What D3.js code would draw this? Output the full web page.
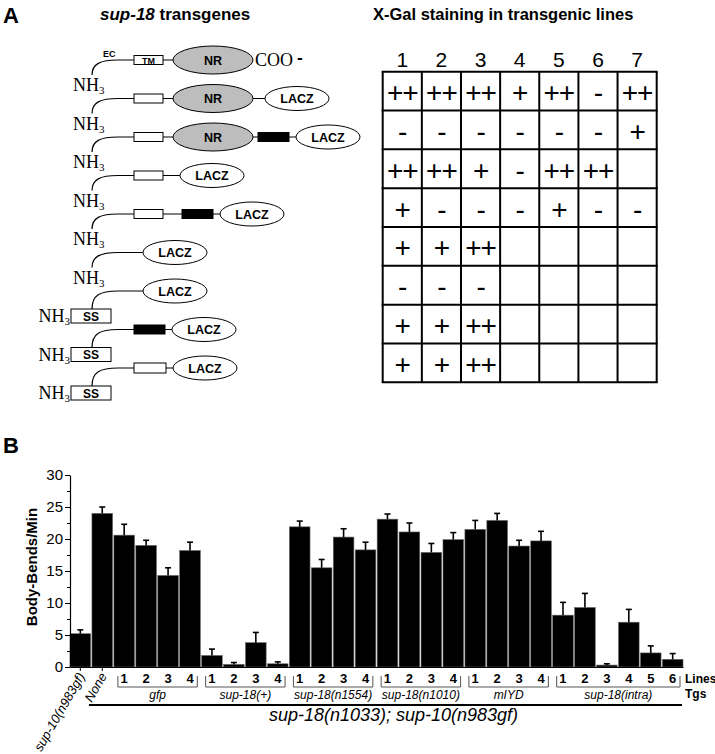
<!DOCTYPE html>
<html>
<head>
<meta charset="utf-8">
<script src="https://cdn.jsdelivr.net/npm/d3@7"></script>
<style>
  body { margin: 0; background: #fff; }
  text { font-family: "Liberation Sans", Arial, sans-serif; }
  .serif { font-family: "Liberation Serif", "Times New Roman", serif; }
</style>
</head>
<body>
<div id="chart"></div>
<script>
// ---- panel A data ----
const constructs = [
  ["TM", "NR"],
  ["tm", "NR", "LACZ"],
  ["tm", "NR", "link", "LACZ"],
  ["tm", "LACZ"],
  ["tm", "link", "LACZ"],
  ["LACZ"],
  ["LACZ"],
  ["link", "LACZ"],
  ["box", "LACZ"]
];
const signalSeq = [false, false, false, false, false, false, true, true, true];
const lineNames = ["1", "2", "3", "4", "5", "6", "7"];
const staining = [
  ["++", "++", "++", "+", "++", "-", "++"],
  ["-", "-", "-", "-", "-", "-", "+"],
  ["++", "++", "+", "-", "++", "++", ""],
  ["+", "-", "-", "-", "+", "-", "-"],
  ["+", "+", "++", "", "", "", ""],
  ["-", "-", "-", "", "", "", ""],
  ["+", "+", "++", "", "", "", ""],
  ["+", "+", "++", "", "", "", ""]
];

// ---- panel B data ----
const controlNames = ["sup-10(n983gf)", "None"];
const controlMeans = [5.2, 24.0];
const controlErrs = [0.6, 1.0];
const tgNames = ["gfp", "sup-18(+)", "sup-18(n1554)", "sup-18(n1010)", "mIYD", "sup-18(intra)"];
const tgMeans = [
  [20.6, 19.0, 14.3, 18.2],
  [1.8, 0.4, 3.8, 0.5],
  [21.9, 15.5, 20.3, 18.3],
  [23.1, 21.1, 17.9, 19.9],
  [21.5, 22.9, 18.9, 19.7],
  [8.1, 9.3, 0.3, 7.0, 2.2, 1.2]
];
const tgErrs = [
  [1.7, 0.8, 1.2, 1.3],
  [1.0, 0.3, 1.6, 0.3],
  [0.9, 1.3, 1.3, 1.2],
  [0.8, 1.4, 1.4, 1.1],
  [1.4, 1.1, 0.9, 1.5],
  [2.0, 2.2, 0.2, 2.0, 1.1, 0.9]
];
const yTicks = [0, 5, 10, 15, 20, 25, 30];
const backgroundLabel = "sup-18(n1033); sup-10(n983gf)";

const width = 715, height = 754;
const svg = d3.select("#chart").append("svg")
  .attr("width", width)
  .attr("height", height);

// panel letters and titles
svg.append("text").attr("x", 3).attr("y", 23)
  .attr("font-size", 22).attr("font-weight", "bold").text("A");
svg.append("text").attr("x", 3).attr("y", 453)
  .attr("font-size", 22).attr("font-weight", "bold").text("B");

const t1 = svg.append("text").attr("x", 100).attr("y", 20)
  .attr("font-size", 17).attr("font-weight", "bold");
t1.append("tspan").attr("font-style", "italic").text("sup-18");
t1.append("tspan").text(" transgenes");

svg.append("text").attr("x", 373).attr("y", 20)
  .attr("font-size", 16.5).attr("font-weight", "bold")
  .text("X-Gal staining in transgenic lines");

// ---- transgene diagrams ----
const rowY = d3.scalePoint().domain(d3.range(constructs.length)).range([60, 368]);
const domainSize = {TM: [29, 9], tm: [29, 9], NR: [80, 28], LACZ: [64, 24], link: [31, 9], box: [32, 10]};
const domainText = {TM: "TM", tm: "", NR: "NR", LACZ: "LACZ", link: "", box: ""};
function gapBetween(a, b) {
  a = a.toUpperCase(); b = b.toUpperCase();
  if (a === "TM" && b === "NR") return 10;
  if (a === "TM" && b === "LACZ") return 17;
  if (a === "TM" && b === "LINK") return 19;
  if (a === "NR" && b === "LACZ") return 12;
  if (a === "NR" && b === "LINK") return 5;
  return 7;
}

const diag = svg.append("g");
constructs.forEach((parts, i) => {
  const yc = rowY(i);
  let x = parts[0] === "LACZ" ? 143 : 134;
  const yb = yc + (signalSeq[i] ? 18 : 15);

  // N-terminal tail
  diag.append("path")
    .attr("d", `M92,${yb} C92,${yc + 4} 100,${yc} 118,${yc} L${x},${yc}`)
    .attr("fill", "none").attr("stroke", "#000").attr("stroke-width", 1.2);

  // NH3 label (with signal sequence box on the last rows)
  if (signalSeq[i]) {
    diag.append("rect").attr("x", 71).attr("y", yb).attr("width", 40).attr("height", 14)
      .attr("fill", "#fff").attr("stroke", "#000").attr("stroke-width", 1);
    diag.append("text").attr("x", 91).attr("y", yb + 11.5).attr("text-anchor", "middle")
      .attr("font-size", 12).attr("font-weight", "bold").text("SS");
  }
  const nh = diag.append("text").attr("class", "serif")
    .attr("x", signalSeq[i] ? 70 : 73).attr("y", yc + 31)
    .attr("text-anchor", signalSeq[i] ? "end" : "start")
    .attr("font-size", 18);
  nh.append("tspan").text("NH");
  nh.append("tspan").attr("font-size", 11).attr("dy", 3).text("3");

  parts.forEach((p, j) => {
    const [w, h] = domainSize[p];
    if (j > 0) {
      const gap = gapBetween(parts[j - 1], p);
      diag.append("line").attr("x1", x).attr("x2", x + gap).attr("y1", yc).attr("y2", yc)
        .attr("stroke", "#000").attr("stroke-width", 1);
      x += gap;
    }
    if (p === "NR" || p === "LACZ") {
      diag.append("ellipse").attr("cx", x + w / 2).attr("cy", yc)
        .attr("rx", w / 2).attr("ry", h / 2)
        .attr("fill", p === "NR" ? "#bdbdbd" : "#fff")
        .attr("stroke", "#000").attr("stroke-width", 1);
    } else {
      diag.append("rect").attr("x", x).attr("y", yc - h / 2).attr("width", w).attr("height", h)
        .attr("fill", p === "link" ? "#000" : "#fff")
        .attr("stroke", "#000").attr("stroke-width", 1);
    }
    if (domainText[p]) {
      diag.append("text").attr("x", x + w / 2).attr("y", yc + (p === "TM" ? 3.5 : 4.5))
        .attr("text-anchor", "middle")
        .attr("font-size", p === "TM" ? 9 : 12.5).attr("font-weight", "bold")
        .text(domainText[p]);
    }
    x += w;
  });

  if (i === 0) {
    diag.append("text").attr("x", 103).attr("y", yc - 3)
      .attr("font-size", 9).attr("font-weight", "bold").text("EC");
    diag.append("text").attr("class", "serif").attr("x", x + 2).attr("y", yc + 6)
      .attr("font-size", 18).text("COO");
    diag.append("text").attr("x", x + 44).attr("y", yc + 3)
      .attr("font-size", 17).attr("font-weight", "bold").text("-");
  }
});

// ---- X-Gal staining table ----
const colX = d3.scaleBand().domain(lineNames).range([382.7, 656.7]);
const rowBand = d3.scaleBand().domain(d3.range(staining.length)).range([71.7, 382.3]);
const table = svg.append("g");

table.selectAll(".colhead").data(lineNames).join("text")
  .attr("x", d => colX(d) + colX.bandwidth() / 2)
  .attr("y", 67)
  .attr("text-anchor", "middle")
  .attr("font-size", 21)
  .text(d => d);

table.selectAll(".vline").data(d3.range(lineNames.length + 1)).join("line")
  .attr("x1", k => colX.range()[0] + k * colX.step())
  .attr("x2", k => colX.range()[0] + k * colX.step())
  .attr("y1", rowBand.range()[0]).attr("y2", rowBand.range()[1])
  .attr("stroke", "#000").attr("stroke-width", 2);
table.selectAll(".hline").data(d3.range(staining.length + 1)).join("line")
  .attr("x1", colX.range()[0] - 1).attr("x2", colX.range()[1] + 1)
  .attr("y1", k => rowBand.range()[0] + k * rowBand.step())
  .attr("y2", k => rowBand.range()[0] + k * rowBand.step())
  .attr("stroke", "#000").attr("stroke-width", 2);

staining.forEach((row, r) => {
  table.selectAll(null).data(row).join("text")
    .attr("x", (d, c) => colX(lineNames[c]) + colX.bandwidth() / 2)
    .attr("y", rowBand(r) + rowBand.bandwidth() / 2 + 11)
    .attr("text-anchor", "middle")
    .attr("font-size", 28)
    .attr("letter-spacing", -1)
    .text(d => d);
});

// ---- panel B bar chart ----
const bars = [];
controlNames.forEach((n, i) => bars.push({group: -1, label: n, mean: controlMeans[i], err: controlErrs[i]}));
tgNames.forEach((g, gi) => tgMeans[gi].forEach((m, k) =>
  bars.push({group: gi, label: String(k + 1), mean: m, err: tgErrs[gi][k]})));

const x = d3.scaleBand().domain(d3.range(bars.length)).range([70, 683]).paddingInner(0.06);
const y = d3.scaleLinear().domain([0, 30]).range([667, 475]);
const chart = svg.append("g");

// bars
chart.selectAll(".bar").data(bars).join("rect")
  .attr("x", (d, i) => x(i))
  .attr("y", d => y(d.mean))
  .attr("width", x.bandwidth())
  .attr("height", d => y(0) - y(d.mean))
  .attr("fill", "#000")
  .attr("stroke", "#666").attr("stroke-width", 0.6);

// upper error bars
const eb = chart.selectAll(".err").data(bars).join("g")
  .attr("transform", (d, i) => `translate(${x(i) + x.bandwidth() / 2},0)`);
eb.append("line").attr("y1", d => y(d.mean)).attr("y2", d => y(d.mean + d.err))
  .attr("stroke", "#000").attr("stroke-width", 1.6);
eb.append("line").attr("x1", -3).attr("x2", 3)
  .attr("y1", d => y(d.mean + d.err)).attr("y2", d => y(d.mean + d.err))
  .attr("stroke", "#000").attr("stroke-width", 1.6);

// y axis with minor ticks
chart.append("g").attr("transform", "translate(70,0)")
  .call(d3.axisLeft(y).tickValues(d3.range(2.5, 30, 5)).tickSize(3).tickFormat(""))
  .call(g => g.select(".domain").remove());
const yAxis = chart.append("g").attr("transform", "translate(70,0)")
  .call(d3.axisLeft(y).tickValues(yTicks).tickSize(5).tickPadding(2).tickSizeOuter(0));
yAxis.selectAll("text").attr("font-size", 15).attr("font-family", "Liberation Sans, Arial, sans-serif");
yAxis.select(".domain").attr("stroke-width", 1.2);

// x baseline
const controlIdx = bars.map((b, i) => i).filter(i => bars[i].group < 0);
const xAxis = chart.append("g").attr("transform", `translate(0,${y(0)})`)
  .call(d3.axisBottom(x).tickValues(controlIdx).tickSize(4).tickFormat("").tickSizeOuter(0));
xAxis.select(".domain").attr("stroke-width", 1.2);

chart.append("text")
  .attr("transform", "translate(37,567) rotate(-90)")
  .attr("text-anchor", "middle")
  .attr("font-size", 15).attr("font-weight", "bold")
  .text("Body-Bends/Min");

// rotated control labels
chart.selectAll(".ctl").data(controlIdx).join("text")
  .attr("transform", i => `translate(${x(i) + x.bandwidth() / 2 + 5},676) rotate(-60)`)
  .attr("text-anchor", "end")
  .attr("font-size", 13).attr("font-style", "italic")
  .text(i => bars[i].label);

// line numbers
bars.forEach((b, i) => {
  if (b.group < 0) return;
  chart.append("text")
    .attr("x", x(i) + x.bandwidth() / 2).attr("y", 683)
    .attr("text-anchor", "middle")
    .attr("font-size", 13).attr("font-weight", "bold")
    .text(b.label);
});

// group brackets and names
tgNames.forEach((name, gi) => {
  const idx = bars.map((b, i) => i).filter(i => bars[i].group === gi);
  const x0 = x(idx[0]) + 4, x1 = x(idx[idx.length - 1]) + x.bandwidth() - 3;
  chart.append("path")
    .attr("d", `M${x0},676 V687 H${x1} V676`)
    .attr("fill", "none").attr("stroke", "#555").attr("stroke-width", 1);
  chart.append("text")
    .attr("x", (x0 + x1) / 2).attr("y", 699)
    .attr("text-anchor", "middle")
    .attr("font-size", 12).attr("font-style", "italic")
    .text(name);
});

chart.append("text").attr("x", 685).attr("y", 683)
  .attr("font-size", 12).attr("font-weight", "bold").text("Lines");
chart.append("text").attr("x", 685).attr("y", 698)
  .attr("font-size", 12).attr("font-weight", "bold").text("Tgs");

// background genotype
const bgStart = x(1) - 3, bgEnd = x(bars.length - 1) + x.bandwidth() - 1;
chart.append("line").attr("x1", bgStart).attr("x2", bgEnd).attr("y1", 705).attr("y2", 705)
  .attr("stroke", "#000").attr("stroke-width", 2);
chart.append("text")
  .attr("x", (bgStart + bgEnd) / 2 + 8).attr("y", 721)
  .attr("text-anchor", "middle")
  .attr("font-size", 18).attr("font-style", "italic")
  .text(backgroundLabel);
</script>
</body>
</html>
